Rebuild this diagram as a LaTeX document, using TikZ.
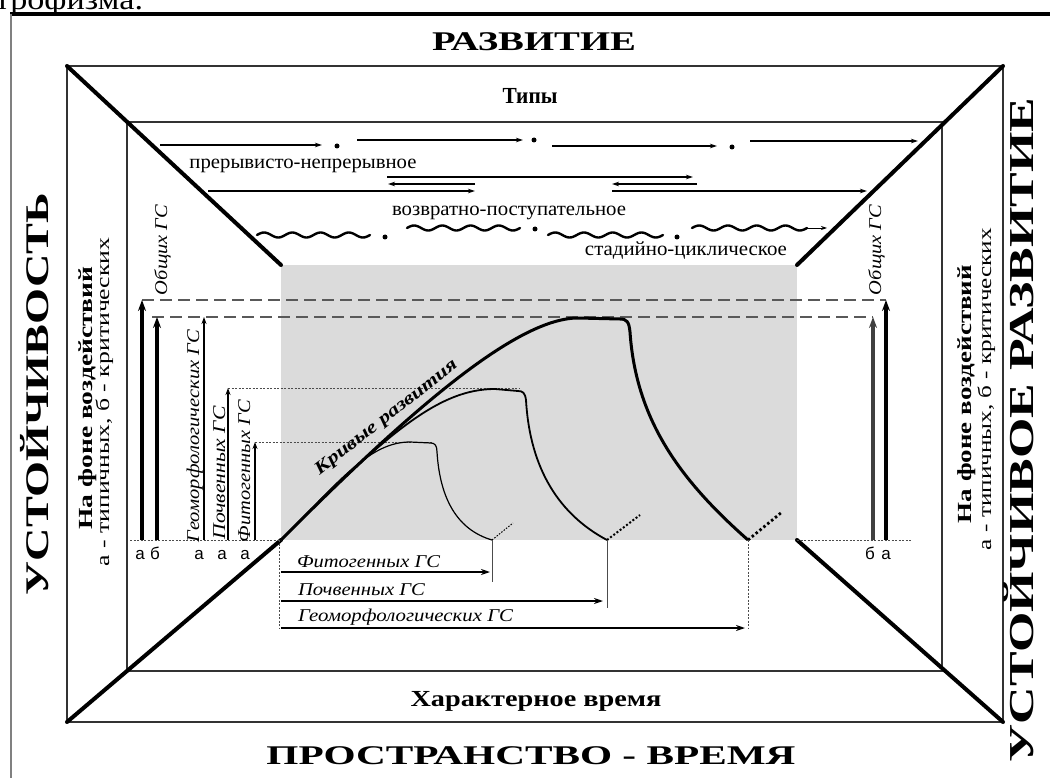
\documentclass[tikz,border=0pt]{standalone}
\usepackage{fontspec}
\setmainfont{Liberation Serif}
\newfontfamily\sansf{Liberation Sans}
\usepackage{graphicx}
\usetikzlibrary{arrows.meta}
\newcommand{\fitw}[2]{\resizebox{#1pt}{\height}{#2}}
\begin{document}
\begin{tikzpicture}[x=1pt,y=-1pt,
  txt/.style={inner sep=0pt, outer sep=0pt},
  frameline/.style={line width=1.4pt, draw=black!80},
  diag/.style={line width=4pt, line cap=round},
  boxline/.style={line width=3pt},
  typearrow/.style={line width=1.3pt, -{Stealth[length=7pt,width=4.5pt]}},
  wave/.style={line width=2.4pt, line cap=round},
  gsthick/.style={line width=3.6pt, -{Stealth[length=11pt,width=8pt]}},
  gsthin/.style={line width=1.5pt, -{Stealth[length=7pt,width=5pt]}},
  levelline/.style={dash pattern=on 12pt off 6pt, line width=1.3pt, draw=black!65},
  dotline/.style={dash pattern=on 2pt off 1.5pt, line width=0.9pt, draw=black!70},
  timearrow/.style={line width=2pt, -{Stealth[length=9pt,width=6pt]}},
  ttl/.style={txt, anchor=base, font=\bfseries\fontsize{#1}{#1}\selectfont},
  reg/.style={txt, anchor=base, font=\fontsize{#1}{#1}\selectfont},
  ital/.style={txt, anchor=base, font=\itshape\fontsize{#1}{#1}\selectfont},
  lett/.style={txt, anchor=base, font=\sansf\fontsize{17}{17}\selectfont},
]
\useasboundingbox (0,0) rectangle (1050,778);
\fill[white] (0,0) rectangle (1050,778);

% page remnants
\node[txt, anchor=base west, font=\fontsize{30}{30}\selectfont] (hdr) at (-5,10) {\fitw{148}{трофизма.}};
\coordinate (pl) at (10,14); \coordinate (pr) at (1050,14); \coordinate (pb) at (11,778);
\draw[line width=4pt] (pl) -- (pr);
\draw[line width=1.2pt, black!50] (11,14) -- (pb);

% frame coordinates
\coordinate (O1) at (67,66);   \coordinate (O2) at (1003,66);
\coordinate (O3) at (1003,722);\coordinate (O4) at (67,722);
\coordinate (I1) at (127,122); \coordinate (I3) at (942,671);
\coordinate (B1) at (281,265); \coordinate (B2) at (797,265);
\coordinate (B3) at (797,540); \coordinate (B4) at (281,540);

\fill[black!14] (B1) rectangle (B3);
\draw[frameline] (O1) rectangle (O3);
\draw[frameline] (I1) rectangle (I3);
\draw[diag] (O1) -- (B1);
\draw[diag] (O2) -- (B2);
\draw[diag] (O3) -- (B3);
\draw[diag] (O4) -- (B4);

% titles
\node[ttl=27] (dev) at (534,51) {\fitw{204}{РАЗВИТИЕ}};
\node[ttl=23] (types) at (530,104) {\fitw{55}{Типы}};
\node[ttl=23] (chtime) at (536,706) {\fitw{251}{Характерное время}};
\node[ttl=27] (spt) at (531,764) {\fitw{529}{ПРОСТРАНСТВО - ВРЕМЯ}};
\node[ttl=33, rotate=90] (ust) at (48,394) {\fitw{402}{УСТОЙЧИВОСТЬ}};
\node[ttl=35, rotate=90] (ustr) at (1033,430) {\fitw{665}{УСТОЙЧИВОЕ РАЗВИТИЕ}};
\node[ttl=20, rotate=90] (lb) at (92,398) {\fitw{263}{На фоне воздействий}};
\node[reg=19, rotate=90] (lr) at (109,402) {\fitw{329}{а - типичных, б - критических}};
\node[ttl=20, rotate=90] (rb) at (971,394) {\fitw{258}{На фоне воздействий}};
\node[reg=19, rotate=90] (rr) at (991,389) {\fitw{322}{а - типичных, б - критических}};

% types: row 1
\coordinate (a1s) at (160,145); \coordinate (a1e) at (322,145);
\coordinate (a2s) at (357,140); \coordinate (a2e) at (523,140);
\coordinate (a3s) at (552,146); \coordinate (a3e) at (717,146);
\coordinate (a4s) at (750,141); \coordinate (a4e) at (918,141);
\draw[typearrow] (a1s) -- (a1e);
\draw[typearrow] (a2s) -- (a2e);
\draw[typearrow] (a3s) -- (a3e);
\draw[typearrow] (a4s) -- (a4e);
\fill (337,146) circle[radius=2.5pt];
\fill (534,140) circle[radius=2.5pt];
\fill (732,147) circle[radius=2.5pt];
\node[reg=20] (t1) at (303,169) {\fitw{227}{прерывисто-непрерывное}};

% types: row 2
\draw[typearrow] (208,191) -- (475,191);
\draw[typearrow] (475,184) -- (388,184);
\draw[typearrow] (387,177) -- (693,177);
\draw[typearrow] (697,184) -- (612,184);
\draw[typearrow] (612,191) -- (867,191);
\node[reg=20] (t2) at (509,216) {\fitw{234}{возвратно-поступательное}};

% types: row 3
\draw[wave] plot[domain=0:4, samples=80, smooth] ({257+28.25*\x},{235-2.5*sin(\x*360)});
\draw[wave] plot[domain=0:4, samples=80, smooth] ({407+28.25*\x},{228-2.5*sin(\x*360)});
\draw[wave] plot[domain=0:4, samples=80, smooth] ({548+28.75*\x},{235-2.5*sin(\x*360)});
\draw[wave] plot[domain=0:4, samples=80, smooth] ({692+28.75*\x},{228-2.5*sin(\x*360)});
\coordinate (w4e) at (807,228); \coordinate (w4a) at (827,228);
\draw[line width=0.9pt, -{Stealth[length=6pt,width=4pt]}] (w4e) -- (w4a);
\fill (385,237) circle[radius=2.5pt];
\fill (535,229) circle[radius=2.5pt];
\fill (677,237) circle[radius=2.5pt];
\node[reg=20] (t3) at (686,256) {\fitw{202}{стадийно-циклическое}};

% level lines
\draw[levelline] (142,300) -- (886,300);
\draw[levelline] (152,317) -- (873,317);
\draw[dotline] (228,388) -- (520,388);
\draw[dotline] (255,442) -- (433,442);
\draw[dotline] (130,540) -- (B4);
\draw[dotline] (B3) -- (912,540);

% curves
\draw[line width=3pt, line join=round] (B4) .. controls (420,400) and (520,318) .. (578,318) -- (620,319)
  .. controls (627,319) and (629,322) .. (630,332) .. controls (636,420) and (680,480) .. (748,540);
\draw[line width=1.8pt, line join=round] (B4) .. controls (390,430) and (440,389) .. (495,389) -- (518,391)
  .. controls (523,391) and (525,393) .. (526,400) .. controls (530,470) and (560,515) .. (607,540);
\draw[line width=1.2pt, line join=round] (B4) .. controls (340,480) and (370,442) .. (410,442) -- (431,443)
  .. controls (435,443) and (437,446) .. (437,452) .. controls (440,500) and (458,530) .. (492,540);
\draw[dash pattern=on 1.5pt off 1.5pt, line width=1pt] (492,540) -- (513,523);
\draw[dash pattern=on 2pt off 2pt, line width=2pt] (607,540) -- (640,515);
\draw[dash pattern=on 2.5pt off 2.5pt, line width=2.8pt] (748,540) -- (782,512);
\node[txt, rotate=38, anchor=base, font=\bfseries\itshape\fontsize{18}{18}\selectfont] (kr) at (389,421) {\fitw{176}{Кривые развития}};

% vertical arrows, left
\coordinate (v1) at (142,540); \coordinate (v1t) at (142,300);
\coordinate (v2) at (157,540); \coordinate (v2t) at (157,317);
\coordinate (v3) at (204,540); \coordinate (v3t) at (204,317);
\coordinate (v4) at (228,540); \coordinate (v4t) at (228,388);
\coordinate (v5) at (255,540); \coordinate (v5t) at (255,442);
\draw[gsthick] (v1) -- (v1t);
\draw[gsthick, line width=4pt] (v2) -- (v2t);
\draw[gsthin] (v3) -- (v3t);
\draw[gsthin] (v4) -- (v4t);
\draw[gsthin] (v5) -- (v5t);
% vertical arrows, right
\coordinate (r1) at (873,540); \coordinate (r1t) at (873,317);
\coordinate (r2) at (886,540); \coordinate (r2t) at (886,300);
\draw[gsthick, draw=black!75, fill=black!75] (r1) -- (r1t);
\draw[gsthick] (r2) -- (r2t);

\node[lett] (la1) at (140,559) {а};
\node[lett] (lb1) at (155,559) {б};
\node[lett] (la2) at (199,559) {а};
\node[lett] (la3) at (222,559) {а};
\node[lett] (la4) at (245,559) {а};
\node[lett] (rb1) at (870,559) {б};
\node[lett] (ra1) at (886,559) {а};

\node[ital=18, rotate=90] (g1) at (167,250) {\fitw{90}{Общих ГС}};
\node[ital=18, rotate=90] (g2) at (199,436) {\fitw{212}{Геоморфологических ГС}};
\node[ital=18, rotate=90] (g3) at (225,473) {\fitw{133}{Почвенных ГС}};
\node[ital=18, rotate=90] (g4) at (250,471) {\fitw{142}{Фитогенных ГС}};
\node[ital=18, rotate=90] (g5) at (881,250) {\fitw{90}{Общих ГС}};

% characteristic time arrows
\coordinate (e1) at (492,540); \coordinate (e2) at (607,540); \coordinate (e3) at (748,540);
\draw[line width=1pt, black!70] (e1) -- (492,582);
\draw[line width=1pt, black!70] (e2) -- (607,608);
\draw[dotline] (e3) -- (748,628);
\draw[dotline] (279,540) -- (279,628);
\draw[timearrow] (281,572) -- (490,572);
\draw[timearrow] (281,601) -- (603,601);
\draw[timearrow] (281,628) -- (745,628);
\node[ital=18, anchor=base west] (h1) at (297,567) {\fitw{143}{Фитогенных ГС}};
\node[ital=18, anchor=base west] (h2) at (298,595) {\fitw{127}{Почвенных ГС}};
\node[ital=18, anchor=base west] (h3) at (298,621) {\fitw{215}{Геоморфологических ГС}};
\end{tikzpicture}
\end{document}
